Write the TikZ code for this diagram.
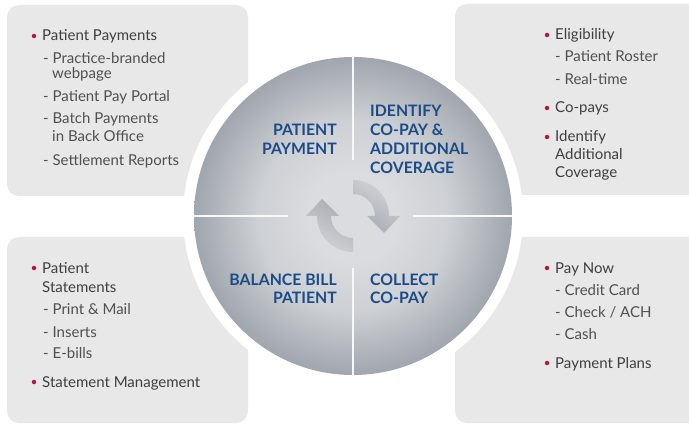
\documentclass[tikz,border=0pt]{standalone}
\usepackage{fontspec}
\setmainfont{Lato}
\definecolor{boxbg}{HTML}{E8E8E8}
\definecolor{discin}{HTML}{DADCDF}
\definecolor{discmid}{HTML}{CDD0D4}
\definecolor{discout}{HTML}{A0A6AD}
\definecolor{stageblue}{HTML}{1C4C88}
\definecolor{itemgray}{HTML}{3F3F3F}
\definecolor{subgray}{HTML}{505050}
\definecolor{bulletred}{HTML}{B3173D}
\definecolor{arrowdark}{HTML}{A7ACB3}
\definecolor{arrowlight}{HTML}{D3D5D8}
\pgfdeclareradialshading{disc}{\pgfpoint{0bp}{0bp}}{color(0bp)=(discin); color(7bp)=(discin); color(15bp)=(discmid); color(25bp)=(discout); color(50bp)=(discout)}
\tikzset{
  panel/.style={fill=boxbg, rounded corners=12pt},
  stagelbl/.style={font=\bfseries\fontsize{15.8}{19}\selectfont, text=stageblue, inner sep=0pt},
  itemtxt/.style={font=\fontsize{15}{18}\selectfont, text=itemgray, inner sep=0pt, anchor=base west},
  subtxt/.style={itemtxt, text=subgray},
  bul/.style={circle, fill=bulletred, inner sep=0pt, minimum size=4.5pt},
  divider/.style={draw=white!92!discout, line width=1.4pt}
}
\begin{document}
\begin{tikzpicture}[x=1pt,y=-1pt]
\useasboundingbox (0,0) rectangle (689,425);
\clip (0,0) rectangle (689,425);
% panels
\fill[panel] (7,5) rectangle (248,196);
\fill[panel] (455,4) rectangle (720,195);
\fill[panel] (7,237) rectangle (248,423);
\fill[panel] (455,237) rectangle (720,423);
% white ring and disc
\node[circle, fill=white, minimum size=340pt, inner sep=0pt] (ring) at (353,216) {};
\node[circle, shading=disc, minimum size=318pt, inner sep=0pt] (hub) at (353,216) {};
% dividers
\coordinate (gN) at (353,160);
\coordinate (gS) at (353,268);
\coordinate (gW) at (288,216);
\coordinate (gE) at (413,216);
\draw[divider] (hub.north) -- (gN);
\draw[divider] (hub.south) -- (gS);
\draw[divider] (hub.west) -- (gW);
\draw[divider] (hub.east) -- (gE);
% cycle arrows
\shade[top color=arrowlight, bottom color=arrowdark, shading angle=-30]
  (353,180) arc[start angle=-90, end angle=0, radius=36] -- (400,216) -- (384,233) -- (367,216) -- (375,216)
  arc[start angle=0, end angle=-90, radius=22] -- cycle;
\shade[top color=arrowdark, bottom color=arrowlight, shading angle=-30]
  (353,252) arc[start angle=90, end angle=180, radius=36] -- (306,216) -- (322,199) -- (339,216) -- (331,216)
  arc[start angle=180, end angle=90, radius=22] -- cycle;
% stage labels
\node[stagelbl, anchor=base east] (pp1) at (337,136) {PATIENT};
\node[stagelbl, anchor=base east] (pp2) at (337,155) {PAYMENT};
\node[stagelbl, anchor=base west] (ic1) at (370,117) {IDENTIFY};
\node[stagelbl, anchor=base west] (ic2) at (370,136) {CO-PAY \&};
\node[stagelbl, anchor=base west] (ic3) at (370,155) {ADDITIONAL};
\node[stagelbl, anchor=base west] (ic4) at (370,174) {COVERAGE};
\node[stagelbl, anchor=base east] (bb1) at (337,285) {BALANCE BILL};
\node[stagelbl, anchor=base east] (bb2) at (337,304) {PATIENT};
\node[stagelbl, anchor=base west] (cc1) at (370,285) {COLLECT};
\node[stagelbl, anchor=base west] (cc2) at (370,304) {CO-PAY};
% top-left list
\node[bul] (tlb1) at (34,36) {};
\node[itemtxt] (tl1) at (42,41) {Patient Payments};
\node[subtxt] (tl2) at (43,64) {- Practice-branded};
\node[subtxt] (tl3) at (52,79) {webpage};
\node[subtxt] (tl4) at (43,102) {- Patient Pay Portal};
\node[subtxt] (tl5) at (43,124) {- Batch Payments};
\node[subtxt] (tl6) at (52,142) {in Back Office};
\node[subtxt] (tl7) at (43,166) {- Settlement Reports};
% top-right list
\node[bul] (trb1) at (547,35) {};
\node[itemtxt] (tr1) at (555,40) {Eligibility};
\node[subtxt] (tr2) at (555,62) {- Patient Roster};
\node[subtxt] (tr3) at (555,85) {- Real-time};
\node[bul] (trb2) at (547,108) {};
\node[itemtxt] (tr4) at (555,113) {Co-pays};
\node[bul] (trb3) at (547,137) {};
\node[itemtxt] (tr5) at (555,142) {Identify};
\node[itemtxt] (tr6) at (555,160) {Additional};
\node[itemtxt] (tr7) at (555,178) {Coverage};
% bottom-left list
\node[bul] (blb1) at (34,268) {};
\node[itemtxt] (bl1) at (42,273) {Patient};
\node[itemtxt] (bl2) at (42,292) {Statements};
\node[subtxt] (bl3) at (43,315) {- Print \& Mail};
\node[subtxt] (bl4) at (43,337) {- Inserts};
\node[subtxt] (bl5) at (43,358) {- E-bills};
\node[bul] (blb2) at (34,382) {};
\node[itemtxt] (bl6) at (42,387) {Statement Management};
% bottom-right list
\node[bul] (brb1) at (547,268) {};
\node[itemtxt] (br1) at (555,273) {Pay Now};
\node[subtxt] (br2) at (555,295) {- Credit Card};
\node[subtxt] (br3) at (555,317) {- Check / ACH};
\node[subtxt] (br4) at (555,339) {- Cash};
\node[bul] (brb2) at (547,363) {};
\node[itemtxt] (br5) at (555,368) {Payment Plans};
\end{tikzpicture}
\end{document}
